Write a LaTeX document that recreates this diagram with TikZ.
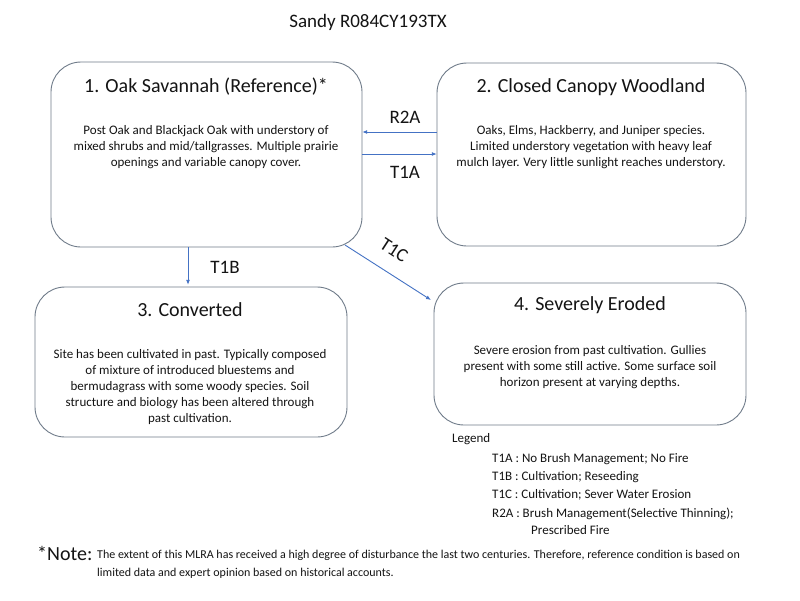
\documentclass[tikz,border=0pt]{standalone}
\usepackage{fontspec}
\setmainfont{Carlito}
\usetikzlibrary{arrows.meta,calc}
\definecolor{boxgray}{RGB}{112,124,138}
\definecolor{arrblue}{RGB}{68,114,196}
\definecolor{txt}{RGB}{20,20,20}
\begin{document}
\begin{tikzpicture}[x=1pt,y=-1pt,
  statebox/.style={draw=boxgray,line width=0.9pt,rounded corners=30pt,fill=white},
  ttl/.style={font=\fontsize{20}{22}\selectfont,text=txt,inner sep=0pt},
  bdy/.style={font=\fontsize{13}{16}\selectfont,text=txt,align=center,inner sep=0pt},
  arr/.style={draw=arrblue,line width=0.9pt,-{Latex[length=5pt,width=4pt]}},
  lbl/.style={font=\fontsize{19}{20}\selectfont,text=txt,inner sep=0pt},
  leg/.style={font=\fontsize{13}{14}\selectfont,text=txt,anchor=west,inner sep=0pt}]
\useasboundingbox[fill=white] (0,0) rectangle (800,600);

\node[font=\fontsize{19}{21}\selectfont,text=txt,inner sep=0pt] (title) at (368,22) {Sandy R084CY193TX};

% boxes
\path[statebox] (51,62) rectangle (362,247);
\node[inner sep=0pt,minimum width=311pt,minimum height=185pt] (b1) at (206.5,154.5) {};
\path[statebox] (437,63) rectangle (746,246);
\node[inner sep=0pt,minimum width=309pt,minimum height=183pt] (b2) at (591.5,154.5) {};
\path[statebox] (35,287) rectangle (347,437);
\node[inner sep=0pt,minimum width=312pt,minimum height=150pt] (b3) at (191,362) {};
\path[statebox] (434,283) rectangle (746,425);
\node[inner sep=0pt,minimum width=312pt,minimum height=142pt] (b4) at (590,354) {};

\node[ttl] (t1) at (206,87) {1. Oak Savannah (Reference)*};
\node[bdy] (d1) at (206,147) {Post Oak and Blackjack Oak with understory of\\mixed shrubs and mid/tallgrasses. Multiple prairie\\openings and variable canopy cover.};
\node[ttl] (t2) at (591,87) {2. Closed Canopy Woodland};
\node[bdy] (d2) at (591,147) {Oaks, Elms, Hackberry, and Juniper species.\\Limited understory vegetation with heavy leaf\\mulch layer. Very little sunlight reaches understory.};
\node[ttl] (t3) at (190,310) {3. Converted};
\node[bdy] (d3) at (190,387) {Site has been cultivated in past. Typically composed\\of mixture of introduced bluestems and\\bermudagrass with some woody species. Soil\\structure and biology has been altered through\\past cultivation.};
\node[ttl] (t4) at (590,305) {4. Severely Eroded};
\node[bdy] (d4) at (590,367) {Severe erosion from past cultivation. Gullies\\present with some still active. Some surface soil\\horizon present at varying depths.};

% arrows
\coordinate (yr) at (0,132);
\coordinate (yt) at (0,154);
\coordinate (xb) at (188,0);
\draw[arr] (b2.west |- yr) -- (b1.east |- yr);
\draw[arr] (b1.east |- yt) -- (b2.west |- yt);
\draw[arr] (b1.south -| xb) -- ($(b3.north -| xb)+(0,-2)$);
\coordinate (c1s) at (345,245);
\coordinate (c1e) at (431,300);
\draw[arr] (c1s) -- (c1e);

\node[lbl] (lr) at (405,117) {R2A};
\node[lbl] (lt) at (405,172) {T1A};
\node[lbl] (lb) at (225,267) {T1B};
\node[lbl,rotate=-33] (lc) at (394,250) {T1C};

% legend
\node[leg] (lg) at (452,439) {Legend};
\node[leg] (l1) at (492,459) {T1A : No Brush Management; No Fire};
\node[leg] (l2) at (492,477) {T1B : Cultivation; Reseeding};
\node[leg] (l3) at (492,495) {T1C : Cultivation; Sever Water Erosion};
\node[leg] (l4) at (492,514) {R2A : Brush Management(Selective Thinning);};
\node[leg] (l5) at (531,530) {Prescribed Fire};

% note
\node[font=\fontsize{20}{22}\selectfont,text=txt,anchor=west,inner sep=0pt] (nt) at (37,553) {*Note:};
\node[font=\fontsize{12}{14}\selectfont,text=txt,anchor=west,inner sep=0pt] (n1) at (97,555) {The extent of this MLRA has received a high degree of disturbance the last two centuries. Therefore, reference condition is based on};
\node[font=\fontsize{12}{14}\selectfont,text=txt,anchor=west,inner sep=0pt] (n2) at (97,573) {limited data and expert opinion based on historical accounts.};
\end{tikzpicture}
\end{document}
